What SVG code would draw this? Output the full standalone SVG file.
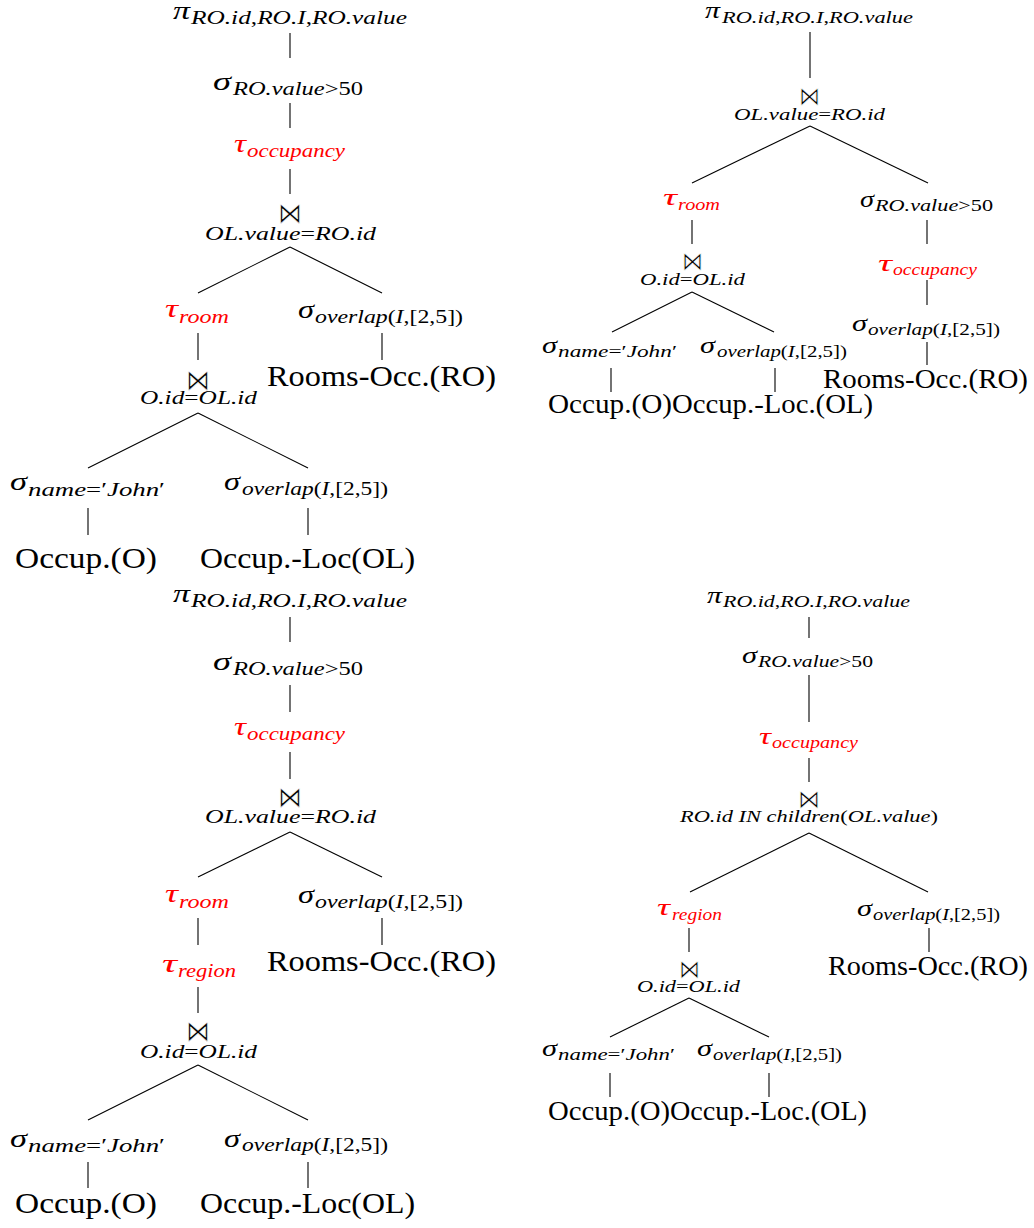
<svg xmlns="http://www.w3.org/2000/svg" width="1034" height="1228" viewBox="0 0 1034 1228">
  <style>
    text { font-family: "Liberation Serif", "Times New Roman", serif; fill: #000; }
    .g { font-style: italic; font-size: 26px; }
    .s { font-style: italic; font-size: 18px; }
    .L { font-size: 29px; }
    .sm .g { font-size: 24px; }
    .sm .s { font-size: 16.5px; }
    .sm .L { font-size: 26.5px; }
    .up { font-style: normal; }
    .red { fill: #ff0000; }
    /* join symbol, thinned with a white outline */
    .bt { font-family: "DejaVu Sans", sans-serif; font-style: normal; font-size: 29px; stroke: #fff; stroke-width: 0.7px; }
    .sm .bt { font-size: 26px; }
    #connectors line { stroke: #000; stroke-width: 1.1; }
  </style>

  <!-- Tree 1 (top left) -->
  <g id="tree1">
    <g id="t1-project">
      <text class="g" x="173" y="19" textLength="17" lengthAdjust="spacingAndGlyphs">π</text>
      <text class="s" x="191" y="24" textLength="216" lengthAdjust="spacingAndGlyphs">RO.id<tspan class="up">,</tspan>RO.I<tspan class="up">,</tspan>RO.value</text>
    </g>
    <g id="t1-select-value">
      <text class="g" x="213" y="90" textLength="18" lengthAdjust="spacingAndGlyphs">σ</text>
      <text class="s" x="233" y="95" textLength="130" lengthAdjust="spacingAndGlyphs">RO.value<tspan class="up">&gt;50</tspan></text>
    </g>
    <g id="t1-tau-occupancy">
      <text class="g red" x="234" y="152" textLength="12" lengthAdjust="spacingAndGlyphs">τ</text>
      <text class="s red" x="247" y="157" textLength="98" lengthAdjust="spacingAndGlyphs">occupancy</text>
    </g>
    <g id="t1-join-room">
      <text class="bt" x="278" y="223" textLength="24" lengthAdjust="spacingAndGlyphs">⋈</text>
      <text class="s" x="205" y="240" textLength="171" lengthAdjust="spacingAndGlyphs">OL.value<tspan class="up">=</tspan>RO.id</text>
    </g>
    <g id="t1-tau-room">
      <text class="g red" x="165" y="317" textLength="13" lengthAdjust="spacingAndGlyphs">τ</text>
      <text class="s red" x="179" y="323" textLength="50" lengthAdjust="spacingAndGlyphs">room</text>
    </g>
    <g id="t1-select-overlap-ro">
      <text class="g" x="298" y="318" textLength="16" lengthAdjust="spacingAndGlyphs">σ</text>
      <text class="s" x="315" y="323" textLength="148" lengthAdjust="spacingAndGlyphs">overlap<tspan class="up">(</tspan>I<tspan class="up">,[2,5])</tspan></text>
    </g>
    <g id="t1-rooms-occ">
      <text class="L" x="267" y="386" textLength="229" lengthAdjust="spacingAndGlyphs">Rooms-Occ.(RO)</text>
    </g>
    <g id="t1-join-id">
      <text class="bt" x="186" y="390" textLength="24" lengthAdjust="spacingAndGlyphs">⋈</text>
      <text class="s" x="140" y="404" textLength="117" lengthAdjust="spacingAndGlyphs">O.id<tspan class="up">=</tspan>OL.id</text>
    </g>
    <g id="t1-select-name">
      <text class="g" x="10" y="490" textLength="17" lengthAdjust="spacingAndGlyphs">σ</text>
      <text class="s" x="28" y="496" textLength="137" lengthAdjust="spacingAndGlyphs">name<tspan class="up">=′</tspan>John<tspan class="up">′</tspan></text>
    </g>
    <g id="t1-select-overlap-ol">
      <text class="g" x="224" y="490" textLength="16" lengthAdjust="spacingAndGlyphs">σ</text>
      <text class="s" x="242" y="495" textLength="146" lengthAdjust="spacingAndGlyphs">overlap<tspan class="up">(</tspan>I<tspan class="up">,[2,5])</tspan></text>
    </g>
    <g id="t1-occup">
      <text class="L" x="15" y="568" textLength="142" lengthAdjust="spacingAndGlyphs">Occup.(O)</text>
    </g>
    <g id="t1-occup-loc">
      <text class="L" x="200" y="568" textLength="215" lengthAdjust="spacingAndGlyphs">Occup.-Loc(OL)</text>
    </g>
  </g>

  <!-- Tree 2 (top right) -->
  <g id="tree2" class="sm">
    <g id="t2-project">
      <text class="g" x="705" y="18" textLength="15" lengthAdjust="spacingAndGlyphs">π</text>
      <text class="s" x="722" y="23" textLength="191" lengthAdjust="spacingAndGlyphs">RO.id<tspan class="up">,</tspan>RO.I<tspan class="up">,</tspan>RO.value</text>
    </g>
    <g id="t2-join-room">
      <text class="bt" x="799" y="104.5" textLength="21" lengthAdjust="spacingAndGlyphs">⋈</text>
      <text class="s" x="734" y="120" textLength="151" lengthAdjust="spacingAndGlyphs">OL.value<tspan class="up">=</tspan>RO.id</text>
    </g>
    <g id="t2-tau-room">
      <text class="g red" x="663" y="205" textLength="14" lengthAdjust="spacingAndGlyphs">τ</text>
      <text class="s red" x="678" y="210" textLength="42" lengthAdjust="spacingAndGlyphs">room</text>
    </g>
    <g id="t2-select-value">
      <text class="g" x="860" y="207" textLength="14" lengthAdjust="spacingAndGlyphs">σ</text>
      <text class="s" x="875" y="211" textLength="118" lengthAdjust="spacingAndGlyphs">RO.value<tspan class="up">&gt;50</tspan></text>
    </g>
    <g id="t2-join-id">
      <text class="bt" x="682" y="269.5" textLength="21" lengthAdjust="spacingAndGlyphs">⋈</text>
      <text class="s" x="640" y="285" textLength="105" lengthAdjust="spacingAndGlyphs">O.id<tspan class="up">=</tspan>OL.id</text>
    </g>
    <g id="t2-tau-occupancy">
      <text class="g red" x="878" y="271" textLength="14" lengthAdjust="spacingAndGlyphs">τ</text>
      <text class="s red" x="893" y="275" textLength="84" lengthAdjust="spacingAndGlyphs">occupancy</text>
    </g>
    <g id="t2-select-overlap-ro">
      <text class="g" x="852" y="331" textLength="15" lengthAdjust="spacingAndGlyphs">σ</text>
      <text class="s" x="868" y="335" textLength="132" lengthAdjust="spacingAndGlyphs">overlap<tspan class="up">(</tspan>I<tspan class="up">,[2,5])</tspan></text>
    </g>
    <g id="t2-rooms-occ">
      <text class="L" x="823" y="388" textLength="205" lengthAdjust="spacingAndGlyphs">Rooms-Occ.(RO)</text>
    </g>
    <g id="t2-select-name">
      <text class="g" x="542" y="353" textLength="15" lengthAdjust="spacingAndGlyphs">σ</text>
      <text class="s" x="558" y="357" textLength="119" lengthAdjust="spacingAndGlyphs">name<tspan class="up">=′</tspan>John<tspan class="up">′</tspan></text>
    </g>
    <g id="t2-select-overlap-ol">
      <text class="g" x="700" y="353" textLength="15" lengthAdjust="spacingAndGlyphs">σ</text>
      <text class="s" x="717" y="357" textLength="130" lengthAdjust="spacingAndGlyphs">overlap<tspan class="up">(</tspan>I<tspan class="up">,[2,5])</tspan></text>
    </g>
    <g id="t2-occup">
      <text class="L" x="548" y="413" textLength="124" lengthAdjust="spacingAndGlyphs">Occup.(O)</text>
    </g>
    <g id="t2-occup-loc">
      <text class="L" x="672" y="413" textLength="201" lengthAdjust="spacingAndGlyphs">Occup.-Loc.(OL)</text>
    </g>
  </g>

  <!-- Tree 3 (bottom left) -->
  <g id="tree3">
    <g id="t3-project">
      <text class="g" x="173" y="602" textLength="17" lengthAdjust="spacingAndGlyphs">π</text>
      <text class="s" x="191" y="607" textLength="216" lengthAdjust="spacingAndGlyphs">RO.id<tspan class="up">,</tspan>RO.I<tspan class="up">,</tspan>RO.value</text>
    </g>
    <g id="t3-select-value">
      <text class="g" x="213" y="670" textLength="18" lengthAdjust="spacingAndGlyphs">σ</text>
      <text class="s" x="233" y="675" textLength="130" lengthAdjust="spacingAndGlyphs">RO.value<tspan class="up">&gt;50</tspan></text>
    </g>
    <g id="t3-tau-occupancy">
      <text class="g red" x="234" y="735" textLength="12" lengthAdjust="spacingAndGlyphs">τ</text>
      <text class="s red" x="247" y="740" textLength="98" lengthAdjust="spacingAndGlyphs">occupancy</text>
    </g>
    <g id="t3-join-room">
      <text class="bt" x="278" y="807" textLength="24" lengthAdjust="spacingAndGlyphs">⋈</text>
      <text class="s" x="205" y="823" textLength="171" lengthAdjust="spacingAndGlyphs">OL.value<tspan class="up">=</tspan>RO.id</text>
    </g>
    <g id="t3-tau-room">
      <text class="g red" x="165" y="902" textLength="13" lengthAdjust="spacingAndGlyphs">τ</text>
      <text class="s red" x="179" y="908" textLength="50" lengthAdjust="spacingAndGlyphs">room</text>
    </g>
    <g id="t3-select-overlap-ro">
      <text class="g" x="298" y="903" textLength="16" lengthAdjust="spacingAndGlyphs">σ</text>
      <text class="s" x="315" y="908" textLength="148" lengthAdjust="spacingAndGlyphs">overlap<tspan class="up">(</tspan>I<tspan class="up">,[2,5])</tspan></text>
    </g>
    <g id="t3-rooms-occ">
      <text class="L" x="267" y="971" textLength="229" lengthAdjust="spacingAndGlyphs">Rooms-Occ.(RO)</text>
    </g>
    <g id="t3-tau-region">
      <text class="g red" x="162" y="972" textLength="15" lengthAdjust="spacingAndGlyphs">τ</text>
      <text class="s red" x="178" y="977" textLength="58" lengthAdjust="spacingAndGlyphs">region</text>
    </g>
    <g id="t3-join-id">
      <text class="bt" x="186" y="1041" textLength="24" lengthAdjust="spacingAndGlyphs">⋈</text>
      <text class="s" x="140" y="1058" textLength="117" lengthAdjust="spacingAndGlyphs">O.id<tspan class="up">=</tspan>OL.id</text>
    </g>
    <g id="t3-select-name">
      <text class="g" x="10" y="1147" textLength="17" lengthAdjust="spacingAndGlyphs">σ</text>
      <text class="s" x="28" y="1152" textLength="137" lengthAdjust="spacingAndGlyphs">name<tspan class="up">=′</tspan>John<tspan class="up">′</tspan></text>
    </g>
    <g id="t3-select-overlap-ol">
      <text class="g" x="224" y="1147" textLength="16" lengthAdjust="spacingAndGlyphs">σ</text>
      <text class="s" x="242" y="1151" textLength="146" lengthAdjust="spacingAndGlyphs">overlap<tspan class="up">(</tspan>I<tspan class="up">,[2,5])</tspan></text>
    </g>
    <g id="t3-occup">
      <text class="L" x="15" y="1213" textLength="142" lengthAdjust="spacingAndGlyphs">Occup.(O)</text>
    </g>
    <g id="t3-occup-loc">
      <text class="L" x="200" y="1213" textLength="215" lengthAdjust="spacingAndGlyphs">Occup.-Loc(OL)</text>
    </g>
  </g>

  <!-- Tree 4 (bottom right) -->
  <g id="tree4" class="sm">
    <g id="t4-project">
      <text class="g" x="707" y="603" textLength="15" lengthAdjust="spacingAndGlyphs">π</text>
      <text class="s" x="723" y="607" textLength="187" lengthAdjust="spacingAndGlyphs">RO.id<tspan class="up">,</tspan>RO.I<tspan class="up">,</tspan>RO.value</text>
    </g>
    <g id="t4-select-value">
      <text class="g" x="742" y="663" textLength="15" lengthAdjust="spacingAndGlyphs">σ</text>
      <text class="s" x="758" y="667" textLength="115" lengthAdjust="spacingAndGlyphs">RO.value<tspan class="up">&gt;50</tspan></text>
    </g>
    <g id="t4-tau-occupancy">
      <text class="g red" x="759" y="744" textLength="12" lengthAdjust="spacingAndGlyphs">τ</text>
      <text class="s red" x="772" y="748" textLength="86" lengthAdjust="spacingAndGlyphs">occupancy</text>
    </g>
    <g id="t4-join-children">
      <text class="bt" x="798" y="807.5" textLength="22" lengthAdjust="spacingAndGlyphs">⋈</text>
      <text class="s" x="680" y="822" textLength="258" lengthAdjust="spacingAndGlyphs">RO.id IN children<tspan class="up">(</tspan>OL.value<tspan class="up">)</tspan></text>
    </g>
    <g id="t4-tau-region">
      <text class="g red" x="657" y="915" textLength="13" lengthAdjust="spacingAndGlyphs">τ</text>
      <text class="s red" x="672" y="920" textLength="50" lengthAdjust="spacingAndGlyphs">region</text>
    </g>
    <g id="t4-select-overlap-ro">
      <text class="g" x="857" y="916" textLength="15" lengthAdjust="spacingAndGlyphs">σ</text>
      <text class="s" x="873" y="920" textLength="127" lengthAdjust="spacingAndGlyphs">overlap<tspan class="up">(</tspan>I<tspan class="up">,[2,5])</tspan></text>
    </g>
    <g id="t4-rooms-occ">
      <text class="L" x="828" y="975" textLength="200" lengthAdjust="spacingAndGlyphs">Rooms-Occ.(RO)</text>
    </g>
    <g id="t4-join-id">
      <text class="bt" x="679" y="977.5" textLength="21" lengthAdjust="spacingAndGlyphs">⋈</text>
      <text class="s" x="637" y="992" textLength="103" lengthAdjust="spacingAndGlyphs">O.id<tspan class="up">=</tspan>OL.id</text>
    </g>
    <g id="t4-select-name">
      <text class="g" x="542" y="1056" textLength="15" lengthAdjust="spacingAndGlyphs">σ</text>
      <text class="s" x="558" y="1060" textLength="117" lengthAdjust="spacingAndGlyphs">name<tspan class="up">=′</tspan>John<tspan class="up">′</tspan></text>
    </g>
    <g id="t4-select-overlap-ol">
      <text class="g" x="697" y="1056" textLength="15" lengthAdjust="spacingAndGlyphs">σ</text>
      <text class="s" x="713" y="1060" textLength="129" lengthAdjust="spacingAndGlyphs">overlap<tspan class="up">(</tspan>I<tspan class="up">,[2,5])</tspan></text>
    </g>
    <g id="t4-occup">
      <text class="L" x="548" y="1120" textLength="122" lengthAdjust="spacingAndGlyphs">Occup.(O)</text>
    </g>
    <g id="t4-occup-loc">
      <text class="L" x="670" y="1120" textLength="197" lengthAdjust="spacingAndGlyphs">Occup.-Loc.(OL)</text>
    </g>
  </g>

  <!-- Tree edges -->
  <g id="connectors">
    <!-- tree 1 -->
    <line x1="290" y1="33" x2="290" y2="58"/>
    <line x1="290" y1="103" x2="290" y2="128"/>
    <line x1="290" y1="169" x2="290" y2="194"/>
    <line x1="290" y1="247" x2="198" y2="293"/>
    <line x1="290" y1="247" x2="382" y2="293"/>
    <line x1="198" y1="333" x2="198" y2="360"/>
    <line x1="382" y1="333" x2="382" y2="360"/>
    <line x1="198" y1="413" x2="88" y2="468"/>
    <line x1="198" y1="413" x2="308" y2="468"/>
    <line x1="88" y1="508" x2="88" y2="535"/>
    <line x1="308" y1="508" x2="308" y2="535"/>
    <!-- tree 2 -->
    <line x1="810" y1="32" x2="810" y2="78"/>
    <line x1="810" y1="126" x2="692" y2="183"/>
    <line x1="810" y1="126" x2="928" y2="183"/>
    <line x1="692" y1="220" x2="692" y2="244"/>
    <line x1="927" y1="220" x2="927" y2="244"/>
    <line x1="692" y1="292" x2="612" y2="332"/>
    <line x1="692" y1="292" x2="774" y2="332"/>
    <line x1="927" y1="280" x2="927" y2="305"/>
    <line x1="927" y1="342" x2="927" y2="365"/>
    <line x1="611" y1="368" x2="611" y2="392"/>
    <line x1="775" y1="368" x2="775" y2="392"/>
    <!-- tree 3 -->
    <line x1="290" y1="617" x2="290" y2="642"/>
    <line x1="290" y1="685" x2="290" y2="712"/>
    <line x1="290" y1="752" x2="290" y2="779"/>
    <line x1="290" y1="832" x2="198" y2="877"/>
    <line x1="290" y1="832" x2="382" y2="877"/>
    <line x1="198" y1="918" x2="198" y2="945"/>
    <line x1="382" y1="918" x2="382" y2="945"/>
    <line x1="198" y1="987" x2="198" y2="1013"/>
    <line x1="198" y1="1065" x2="88" y2="1120"/>
    <line x1="198" y1="1065" x2="308" y2="1120"/>
    <line x1="88" y1="1162" x2="88" y2="1188"/>
    <line x1="308" y1="1162" x2="308" y2="1188"/>
    <!-- tree 4 -->
    <line x1="809" y1="617" x2="809" y2="638"/>
    <line x1="809" y1="675" x2="809" y2="722"/>
    <line x1="809" y1="758" x2="809" y2="782"/>
    <line x1="809" y1="833" x2="690" y2="892"/>
    <line x1="809" y1="833" x2="928" y2="892"/>
    <line x1="689" y1="928" x2="689" y2="952"/>
    <line x1="929" y1="928" x2="929" y2="952"/>
    <line x1="689" y1="998" x2="610" y2="1037"/>
    <line x1="689" y1="998" x2="769" y2="1037"/>
    <line x1="610" y1="1073" x2="610" y2="1097"/>
    <line x1="769" y1="1073" x2="769" y2="1097"/>
  </g>
</svg>
